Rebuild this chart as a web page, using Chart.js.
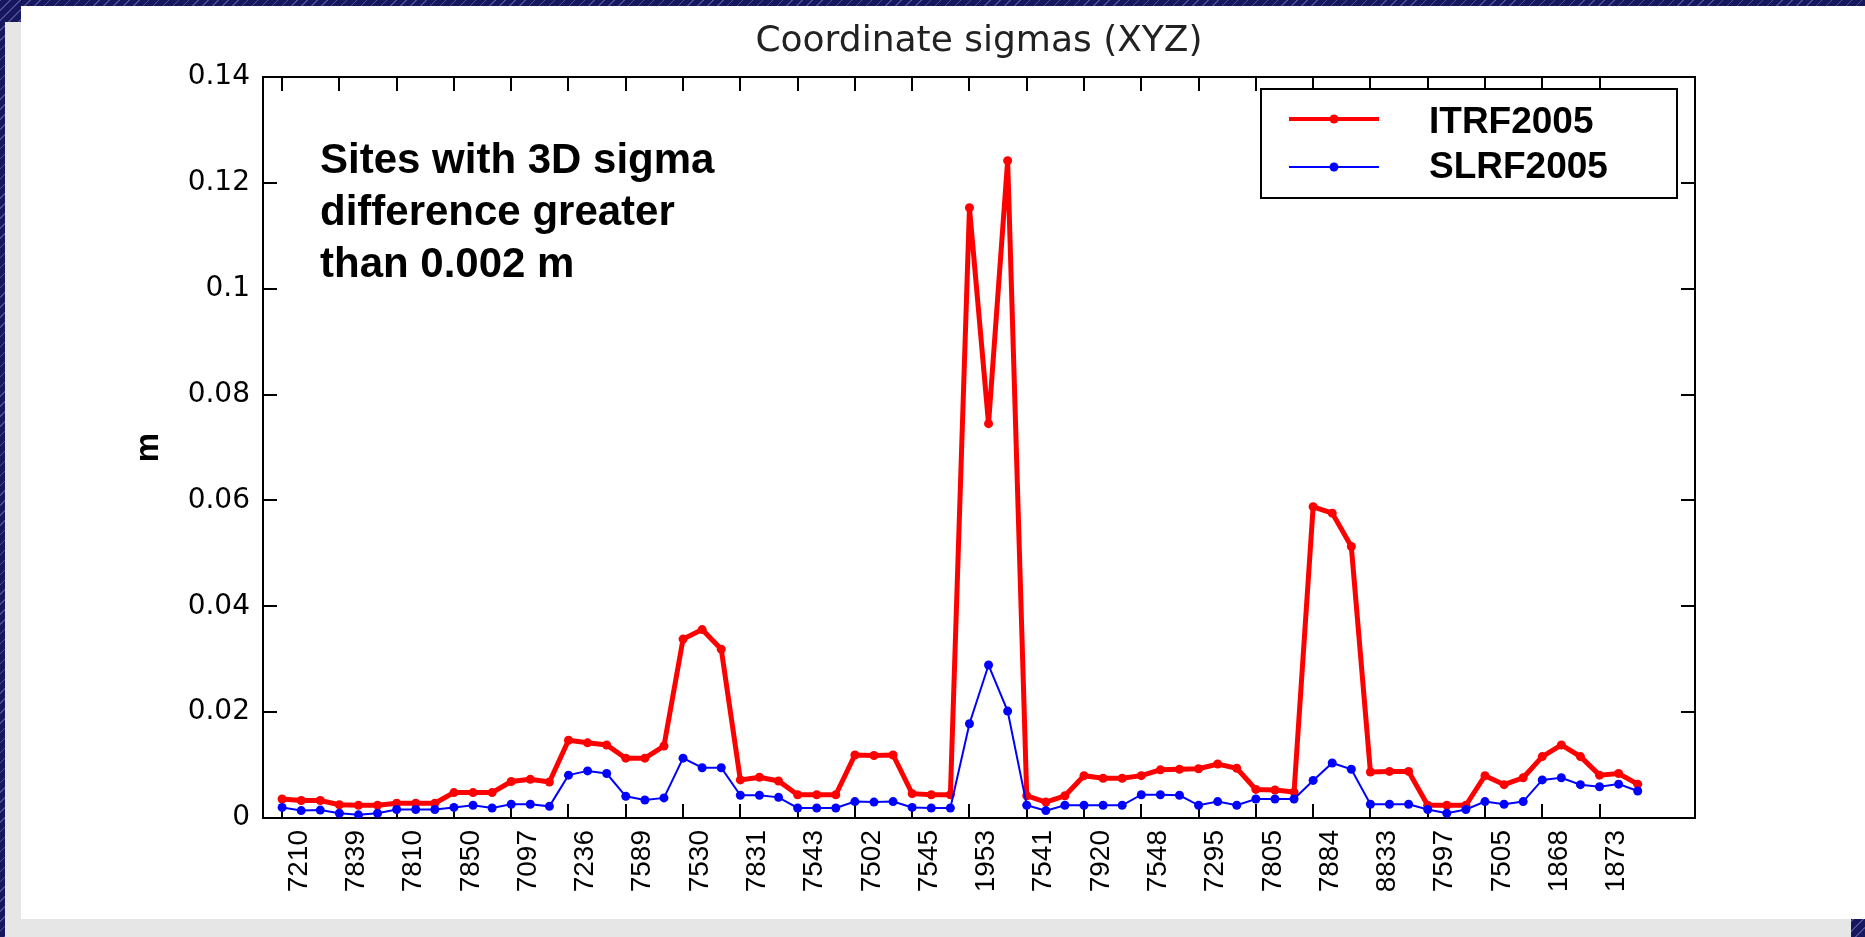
<!DOCTYPE html>
<html>
<head>
<meta charset="utf-8">
<title>Coordinate sigmas (XYZ)</title>
<script src="https://cdn.jsdelivr.net/npm/chart.js@4.4.1/dist/chart.umd.min.js"></script>
<style>
    html, body { margin: 0; padding: 0; }
    body {
        width: 1865px; height: 937px; overflow: hidden; position: relative;
        background-color: #17175e;
        background-image: repeating-linear-gradient(135deg, rgba(120, 120, 200, 0.55) 0 1px, transparent 1px 7px);
    }
    #shadow { position: absolute; left: 5px; top: 22px; width: 1846px; height: 915px; background: #e6e6e6; }
    #sheet { position: absolute; left: 21px; top: 6px; width: 1844px; height: 913px; background: #ffffff; }
    #myChart { position: absolute; left: 0; top: 0; }
</style>
</head>
<body>
<div id="shadow"></div>
<div id="sheet"></div>
<canvas id="myChart" width="1865" height="937"></canvas>
<script>
// site codes, one label for every third point
var siteLabels = ['7210', '7839', '7810', '7850', '7097', '7236', '7589', '7530', '7831', '7543', '7502', '7545',
    '1953', '7541', '7920', '7548', '7295', '7805', '7884', '8833', '7597', '7505', '1868', '1873'];

var itrf2005 = [
    0.0036, 0.0033, 0.0033, 0.0025, 0.0024, 0.0024, 0.0028, 0.0028, 0.0028, 0.0048,
    0.0048, 0.0048, 0.0069, 0.0073, 0.0068, 0.0147, 0.0142, 0.0138, 0.0113, 0.0113,
    0.0136, 0.0338, 0.0356, 0.0319, 0.0072, 0.0077, 0.0070, 0.0044, 0.0044, 0.0044,
    0.0119, 0.0118, 0.0119, 0.0046, 0.0044, 0.0044, 0.1153, 0.0745, 0.1242, 0.0042,
    0.0030, 0.0042, 0.0080, 0.0075, 0.0075, 0.0080, 0.0091, 0.0092, 0.0093, 0.0102,
    0.0094, 0.0054, 0.0053, 0.0049, 0.0588, 0.0576, 0.0513, 0.0087, 0.0088, 0.0088,
    0.0024, 0.0024, 0.0024, 0.0080, 0.0063, 0.0076, 0.0116, 0.0138, 0.0116, 0.0081,
    0.0084, 0.0064];

var slrf2005 = [
    0.0020, 0.0014, 0.0015, 0.0009, 0.0006, 0.0009, 0.0016, 0.0016, 0.0016, 0.0020,
    0.0024, 0.0019, 0.0026, 0.0026, 0.0022, 0.0081, 0.0089, 0.0084, 0.0041, 0.0034,
    0.0038, 0.0113, 0.0095, 0.0095, 0.0043, 0.0043, 0.0039, 0.0019, 0.0019, 0.0019,
    0.0031, 0.0030, 0.0031, 0.0020, 0.0019, 0.0019, 0.0178, 0.0289, 0.0202, 0.0024,
    0.0014, 0.0024, 0.0024, 0.0024, 0.0024, 0.0044, 0.0044, 0.0043, 0.0024, 0.0031,
    0.0024, 0.0036, 0.0036, 0.0036, 0.0071, 0.0104, 0.0092, 0.0026, 0.0026, 0.0026,
    0.0016, 0.0009, 0.0016, 0.0031, 0.0026, 0.0031, 0.0072, 0.0076, 0.0063, 0.0059,
    0.0064, 0.0051];

var yTicks = [0, 0.02, 0.04, 0.06, 0.08, 0.1, 0.12, 0.14];
var noteLines = ['Sites with 3D sigma', 'difference greater', 'than 0.002 m'];

function toPoints(arr) {
    return arr.map(function (v, i) { return { x: i + 1, y: v }; });
}
function siteTicks(scale) {
    scale.ticks = siteLabels.map(function (s, k) { return { value: 3 * k + 1 }; });
}
function valueTicks(scale) {
    scale.ticks = yTicks.map(function (v) { return { value: v }; });
}

var axisGrid = { drawOnChartArea: false, color: '#000', lineWidth: 2, tickLength: -14 };
var axisBorder = { display: true, color: '#000', width: 2 };

var noteText = {
    id: 'noteText',
    afterDraw: function (chart) {
        var ctx = chart.ctx, a = chart.chartArea;
        ctx.save();
        ctx.fillStyle = '#000';
        ctx.font = 'bold 42px "Liberation Sans", Arial, sans-serif';
        ctx.textBaseline = 'alphabetic';
        noteLines.forEach(function (line, n) {
            ctx.fillText(line, a.left + 57, a.top + 96 + n * 52);
        });
        ctx.restore();
    }
};

var boxLegend = {
    id: 'boxLegend',
    afterDraw: function (chart) {
        var ctx = chart.ctx, a = chart.chartArea;
        var w = 416, h = 109;
        var left = a.right - 18 - w, top = a.top + 12;
        ctx.save();
        ctx.fillStyle = '#fff';
        ctx.fillRect(left, top, w, h);
        ctx.strokeStyle = '#000';
        ctx.lineWidth = 2;
        ctx.strokeRect(left, top, w, h);
        ctx.font = 'bold 37px "Liberation Sans", Arial, sans-serif';
        ctx.textBaseline = 'alphabetic';
        chart.data.datasets.forEach(function (ds, n) {
            var y = top + 30 + n * 48;
            ctx.strokeStyle = ds.borderColor;
            ctx.lineWidth = ds.borderWidth > 2 ? 4 : 2;
            ctx.beginPath();
            ctx.moveTo(left + 28, y);
            ctx.lineTo(left + 118, y);
            ctx.stroke();
            ctx.fillStyle = ds.borderColor;
            ctx.beginPath();
            ctx.arc(left + 73, y, 4.5, 0, Math.PI * 2);
            ctx.fill();
            ctx.fillStyle = '#000';
            ctx.fillText(ds.label, left + 168, y + 14 - n * 3);
        });
        ctx.restore();
    }
};

var ctx = document.getElementById('myChart').getContext('2d');
var chart = new Chart(ctx, {
    type: 'line',
    data: {
        datasets: [{
            label: 'ITRF2005',
            data: toPoints(itrf2005),
            xAxisID: 'x', yAxisID: 'y',
            borderColor: '#ff0000',
            backgroundColor: '#ff0000',
            borderWidth: 5,
            pointRadius: 4.5,
            pointBorderWidth: 0,
            pointBackgroundColor: '#ff0000',
            tension: 0,
            order: 1
        }, {
            label: 'SLRF2005',
            data: toPoints(slrf2005),
            xAxisID: 'x', yAxisID: 'y',
            borderColor: '#0000ff',
            backgroundColor: '#0000ff',
            borderWidth: 2,
            pointRadius: 4.5,
            pointBorderWidth: 0,
            pointBackgroundColor: '#0000ff',
            tension: 0,
            order: 0
        }]
    },
    options: {
        responsive: false,
        animation: false,
        devicePixelRatio: 1,
        layout: { padding: { left: 0, right: 170, top: 0, bottom: 0 } },
        plugins: {
            legend: { display: false },
            tooltip: { enabled: false },
            title: {
                display: true,
                fullSize: false,
                text: 'Coordinate sigmas (XYZ)',
                color: '#222',
                font: { family: 'DejaVu Sans', size: 36, weight: 'normal', lineHeight: 1.2 },
                padding: { top: 20, bottom: 13.8 }
            }
        },
        scales: {
            x: {
                type: 'linear', position: 'bottom', min: 0, max: 75,
                afterBuildTicks: siteTicks,
                afterFit: function (s) { s.height = 119; },
                grid: axisGrid, border: axisBorder,
                ticks: {
                    autoSkip: false, minRotation: 90, maxRotation: 90,
                    padding: 26, labelOffset: 17, color: '#000',
                    font: { family: 'Liberation Sans', size: 28 },
                    callback: function (value, index) { return siteLabels[index]; }
                }
            },
            x2: {
                type: 'linear', position: 'top', min: 0, max: 75,
                afterBuildTicks: siteTicks,
                afterFit: function (s) { s.height = 0; },
                grid: axisGrid, border: axisBorder,
                ticks: { display: false }
            },
            y: {
                type: 'linear', position: 'left', min: 0, max: 0.14,
                afterBuildTicks: valueTicks,
                afterFit: function (s) { s.width = 263; },
                grid: axisGrid, border: axisBorder,
                ticks: {
                    padding: 27, color: '#000',
                    font: { family: 'DejaVu Sans', size: 28 },
                    callback: function (value) { return String(Number(value.toFixed(2))); }
                },
                title: {
                    display: true, text: 'm', color: '#000',
                    font: { family: 'Liberation Sans', size: 33, weight: 'bold', lineHeight: 1.2 },
                    padding: { top: 129, bottom: 0 }
                }
            },
            y2: {
                type: 'linear', position: 'right', min: 0, max: 0.14,
                afterBuildTicks: valueTicks,
                afterFit: function (s) { s.width = 0; },
                grid: axisGrid, border: axisBorder,
                ticks: { display: false }
            }
        }
    },
    plugins: [noteText, boxLegend]
});
</script>
</body>
</html>
